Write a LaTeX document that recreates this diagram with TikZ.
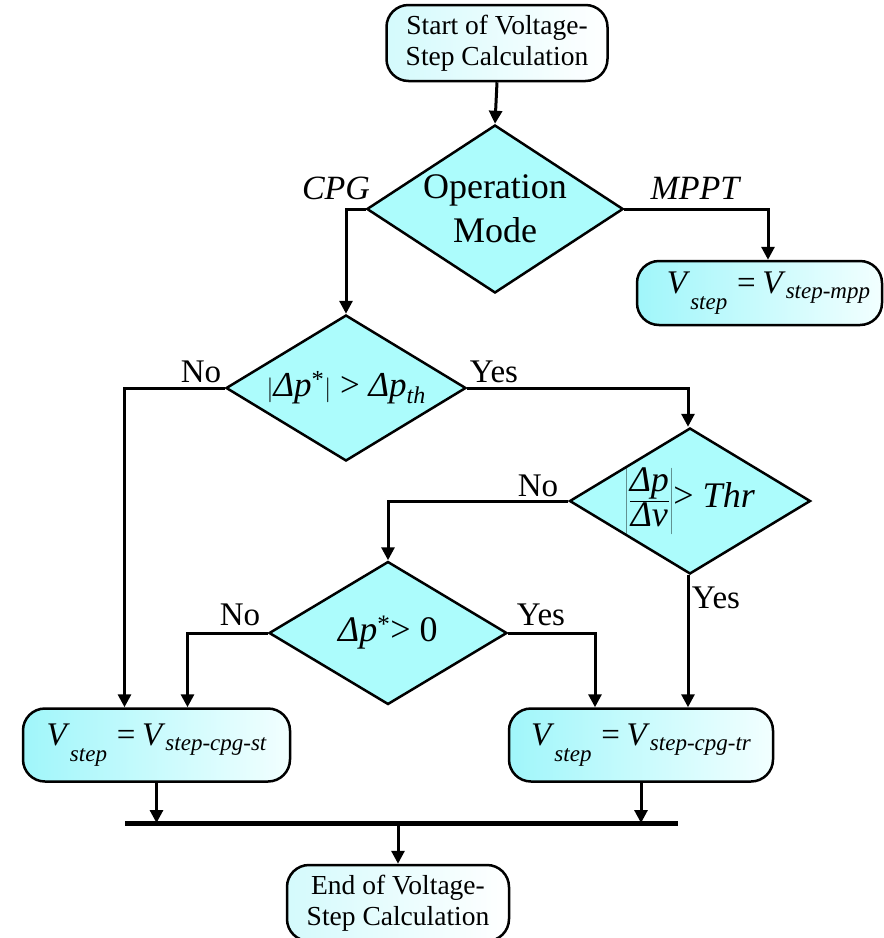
\documentclass[tikz,border=0pt]{standalone}
\usepackage{fontspec}
\setmainfont{Liberation Serif}
\usetikzlibrary{shapes.geometric,arrows.meta,calc}
\definecolor{dfill}{RGB}{172,252,252}
\definecolor{bleft}{RGB}{160,246,250}
\definecolor{bright}{RGB}{242,255,255}
\definecolor{sleft}{RGB}{212,250,252}
\newcommand{\vsub}[2][-0.5em]{\raisebox{#1}{\fontsize{23}{24}\selectfont\itshape #2}}
\begin{document}
\begin{tikzpicture}[x=1pt,y=-1pt,
  conn/.style={line width=3pt,-{Triangle[length=13pt,width=13pt]}},
  busline/.style={line width=5pt},
  dec/.style={diamond,draw,line width=2.5pt,fill=dfill,inner sep=0pt,aspect=1.65},
  proc/.style={rectangle,rounded corners=22pt,draw,line width=2.5pt,left color=bleft,right color=bright,inner sep=0pt},
  term/.style={rectangle,rounded corners=22pt,draw,line width=2.5pt,left color=sleft,right color=white,inner sep=0pt,align=center,font=\fontsize{27.5}{31}\selectfont},
  lab/.style={font=\fontsize{33}{36}\selectfont,inner sep=0pt},
  ilab/.style={font=\fontsize{34}{36}\selectfont\itshape,inner sep=0pt},
  mtext/.style={font=\fontsize{33}{35}\selectfont},
]
\useasboundingbox (0,0) rectangle (884,938);

\node[term,minimum width=221pt,minimum height=76pt] (start) at (497,43) {Start of Voltage-\\Step Calculation};
\node[dec,minimum width=254pt,minimum height=168pt,align=center,font=\fontsize{36}{44}\selectfont] (mode) at (495,209) {Operation\\Mode};
\node[proc,minimum width=245pt,minimum height=64pt,mtext] (mpp) at (759.5,293) {\hspace{18pt}\textit{V}\vsub{step}\hspace{0.3em}=\hspace{0.2em}\textit{V}\vsub[-0.15em]{step-mpp}};
\node[dec,minimum width=240pt,minimum height=146pt,font=\fontsize{35}{37}\selectfont] (d2) at (346,388)
  {$|${\itshape Δp}\textsuperscript{*}$|$ > {\itshape Δp}\raisebox{-0.2em}{\fontsize{24}{26}\selectfont\itshape th}};
\node[dec,minimum width=241pt,minimum height=146pt,font=\fontsize{36}{38}\selectfont] (d3) at (690,501)
  {$\displaystyle\left|\frac{\mbox{\itshape Δp}}{\mbox{\itshape Δv}}\right|$> {\itshape Thr}};
\node[dec,minimum width=238pt,minimum height=143pt,font=\fontsize{36}{38}\selectfont] (d4) at (388,633)
  {{\itshape Δp}\textsuperscript{*}> 0};
\node[proc,minimum width=267pt,minimum height=73pt,mtext] (st) at (156.5,745) {\textit{V}\vsub{step}\hspace{0.3em}=\hspace{0.2em}\textit{V}\vsub[-0.15em]{step-cpg-st}};
\node[proc,minimum width=264pt,minimum height=73pt,mtext] (tr) at (641,745) {\textit{V}\vsub{step}\hspace{0.3em}=\hspace{0.2em}\textit{V}\vsub[-0.15em]{step-cpg-tr}};
\node[term,minimum width=222pt,minimum height=76pt] (end) at (398,903) {End of Voltage-\\Step Calculation};

\coordinate (busL) at (125,823);
\coordinate (busR) at (678,823);

% connectors
\draw[conn] (start.south) -- (mode.north);
\draw[conn] (mode.west) -| (d2.north);
\draw[conn] (mode.east) -| ([xshift=8.5pt]mpp.north);
\draw[conn] (d2.west) -| ([xshift=-32pt]st.north);
\draw[conn] (d2.east) -| ([xshift=-2pt]d3.north);
\draw[conn] (d3.west) -| (d4.north);
\draw[conn] ([xshift=-2pt]d3.south) -- ([xshift=-2pt]d3.south |- tr.north);
\draw[conn] (d4.west) -| ([xshift=31pt]st.north);
\draw[conn] (d4.east) -| ([xshift=-46pt]tr.north);
\draw[conn] (st.south) -- (st.south |- busL);
\draw[conn] (tr.south) -- (tr.south |- busL);
\draw[busline] (busL) -- (busR);
\draw[conn] (end.north |- busL) -- (end.north);

% labels
\node[ilab] (lcpg) at (336,188) {CPG};
\node[ilab] (lmppt) at (695,188) {MPPT};
\node[lab] (lno1) at (201,372) {No};
\node[lab] (lyes1) at (494,372) {Yes};
\node[lab] (lno2) at (538,486) {No};
\node[lab] (lyes2) at (716,598) {Yes};
\node[lab] (lno3) at (240,615) {No};
\node[lab] (lyes3) at (541,615) {Yes};
\end{tikzpicture}
\end{document}
